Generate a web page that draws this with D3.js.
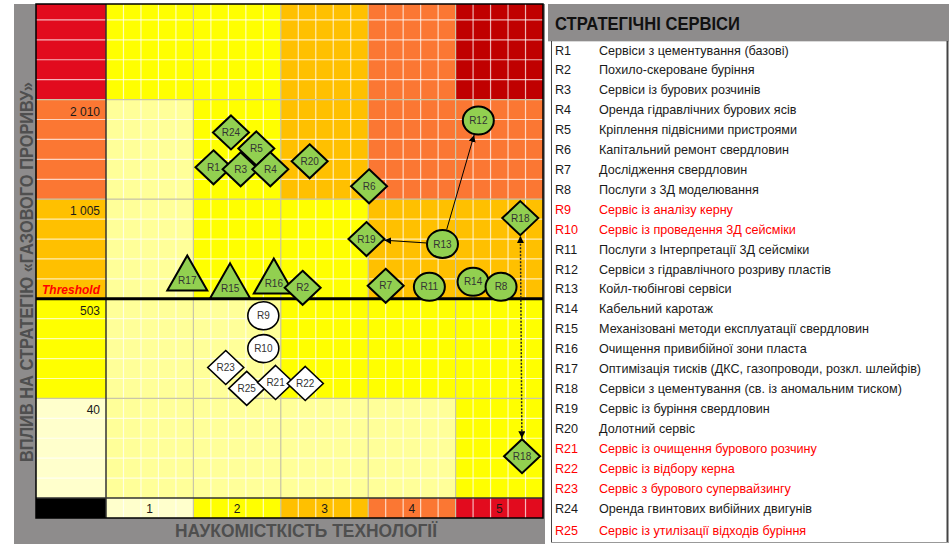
<!DOCTYPE html>
<html>
<head>
<meta charset="utf-8">
<script src="https://cdn.jsdelivr.net/npm/d3@7"></script>
<style>
body { margin: 0; background: #fff; }
svg { display: block; font-family: "Liberation Sans", Arial, sans-serif; }
</style>
</head>
<body>
<svg id="chart" width="949" height="544"></svg>
<script>
// ---- data ----
var xTickLabels = ["1", "2", "3", "4", "5"];
var yTickLabels = ["40", "503", "1 005", "2 010"];
var thresholdLabel = "Threshold";
var thresholdLevel = 2;

// risk level of every cell, rows from the bottom band up
var cellLevels = [
  [1, 1, 1, 1, 2],
  [1, 1, 2, 2, 2],
  [1, 2, 2, 3, 3],
  [1, 2, 3, 4, 4],
  [2, 2, 3, 4, 5]
];
var bandLevels = [0, 2, 3, 4, 6];   // left column, bottom -> top
var columnLevels = [0, 2, 3, 4, 6]; // bottom strip, 1 -> 5

// services on the map (drawing order)
var pointIds = ["R24", "R5", "R1", "R3", "R4", "R20", "R6", "R12", "R18", "R19", "R13",
  "R17", "R15", "R16", "R2", "R7", "R11", "R14", "R8", "R9", "R10", "R23", "R25", "R21", "R22", "R18b"];
var pointX = [1.43, 1.72, 1.23, 1.54, 1.88, 2.33, 3.01, 4.26, 4.74, 2.98, 3.85,
  0.93, 1.42, 1.92, 2.25, 3.20, 3.70, 4.20, 4.52, 1.80, 1.80, 1.37, 1.61, 1.94, 2.28, 4.76];
var pointY = [3.67, 3.51, 3.32, 3.30, 3.30, 3.38, 3.13, 3.79, 2.81, 2.60, 2.55,
  2.26, 2.18, 2.23, 2.11, 2.13, 2.12, 2.17, 2.12, 1.83, 1.50, 1.31, 1.10, 1.16, 1.15, 0.42];
var pointShape = ["diamond", "diamond", "diamond", "diamond", "diamond", "diamond", "diamond", "circle", "diamond", "diamond", "circle",
  "triangle", "triangle", "triangle", "diamond", "diamond", "circle", "circle", "circle", "circle", "circle", "diamond", "diamond", "diamond", "diamond", "diamond"];

var moveLinks = [["R13", "R12"], ["R13", "R19"]];
var splitLinks = [["R18b", "R18"]];

// legend
var serviceCodes = ["R1", "R2", "R3", "R4", "R5", "R6", "R7", "R8", "R9", "R10", "R11", "R12", "R13",
  "R14", "R15", "R16", "R17", "R18", "R19", "R20", "R21", "R22", "R23", "R24", "R25"];
var serviceNames = [
  "Сервіси з цементування (базові)",
  "Похило-скероване буріння",
  "Сервіси із бурових розчинів",
  "Оренда гідравлічних бурових ясів",
  "Кріплення підвісними пристроями",
  "Капітальний ремонт свердловин",
  "Дослідження свердловин",
  "Послуги з 3Д моделювання",
  "Сервіс із аналізу керну",
  "Сервіс із проведення 3Д сейсміки",
  "Послуги з Інтерпретації 3Д сейсміки",
  "Сервіси з гідравлічного розриву пластів",
  "Койл-тюбінгові сервіси",
  "Кабельний каротаж",
  "Механізовані методи експлуатації свердловин",
  "Очищення привибійної зони пласта",
  "Оптимізація тисків (ДКС, газопроводи, розкл. шлейфів)",
  "Сервіси з цементування (св. із аномальним тиском)",
  "Сервіс із буріння свердловин",
  "Долотний сервіс",
  "Сервіс із очищення бурового розчину",
  "Сервіс із відбору керна",
  "Сервіс з бурового супервайзингу",
  "Оренда гвинтових вибійних двигунів",
  "Сервіс із утилізації відходів буріння"
];
var newServices = ["R9", "R10", "R21", "R22", "R23", "R25"];

// ---- layout ----
var svg = d3.select("#chart");
var plot = { left: 106, right: 543, top: 4, bottom: 498, outer: 36, strip: 518 };

var levelColor = d3.scaleOrdinal()
  .domain([0, 1, 2, 3, 4, 5, 6])
  .range(["#ffffcc", "#ffff99", "#ffff00", "#ffc000", "#fb7733", "#c00000", "#e20b1e"]);

var x = d3.scaleLinear().domain([0, 5]).range([plot.left, plot.right]);
var y = d3.scaleLinear().domain([0, 5]).range([plot.bottom, 0]);

svg.append("rect").attr("x", 14).attr("y", 4).attr("width", 531).attr("height", 540).attr("fill", "#8e8c8c");

svg.append("clipPath").attr("id", "clip")
  .append("rect").attr("x", plot.outer).attr("y", plot.top)
  .attr("width", plot.right - plot.outer).attr("height", plot.strip - plot.top);

var g = svg.append("g").attr("clip-path", "url(#clip)");

// cells
var cells = [];
cellLevels.forEach(function (row, r) {
  row.forEach(function (lv, c) { cells.push({ r: r, c: c, lv: lv }); });
});
g.selectAll("rect.cell").data(cells).enter().append("rect")
  .attr("x", function (d) { return x(d.c); })
  .attr("y", function (d) { return y(d.r + 1); })
  .attr("width", x(1) - x(0))
  .attr("height", y(0) - y(1))
  .attr("fill", function (d) { return levelColor(d.lv); });

g.selectAll("rect.band").data(bandLevels).enter().append("rect")
  .attr("x", plot.outer)
  .attr("y", function (d, i) { return y(i + 1); })
  .attr("width", plot.left - plot.outer)
  .attr("height", y(0) - y(1))
  .attr("fill", function (d) { return levelColor(d); });

g.selectAll("rect.col").data(columnLevels).enter().append("rect")
  .attr("x", function (d, i) { return x(i); })
  .attr("y", plot.bottom)
  .attr("width", x(1) - x(0))
  .attr("height", plot.strip - plot.bottom)
  .attr("fill", function (d) { return levelColor(d); });

g.append("rect").attr("x", plot.outer).attr("y", plot.bottom)
  .attr("width", plot.left - plot.outer).attr("height", plot.strip - plot.bottom).attr("fill", "#000");

// grid
var minor = d3.range(1, 25).filter(function (i) { return i % 5 !== 0; }).map(function (i) { return i / 5; });
g.selectAll("line.vmin").data(minor).enter().append("line")
  .attr("x1", function (d) { return x(d); }).attr("x2", function (d) { return x(d); })
  .attr("y1", plot.top).attr("y2", plot.strip)
  .attr("stroke", "#fff").attr("stroke-opacity", 0.7).attr("stroke-width", 1.2);
g.selectAll("line.hmin").data(minor).enter().append("line")
  .attr("x1", plot.outer).attr("x2", plot.right)
  .attr("y1", function (d) { return y(d); }).attr("y2", function (d) { return y(d); })
  .attr("stroke", "#fff").attr("stroke-opacity", 0.7).attr("stroke-width", 1.2);
var major = [1, 2, 3, 4];
g.selectAll("line.vmaj").data(major).enter().append("line")
  .attr("x1", function (d) { return x(d); }).attr("x2", function (d) { return x(d); })
  .attr("y1", plot.top).attr("y2", plot.strip)
  .attr("stroke", "#c9c6a8").attr("stroke-width", 1.2);
g.selectAll("line.hmaj").data(major).enter().append("line")
  .attr("x1", plot.outer).attr("x2", plot.right)
  .attr("y1", function (d) { return y(d); }).attr("y2", function (d) { return y(d); })
  .attr("stroke", "#c9c6a8").attr("stroke-width", 1.2);

// frame
svg.append("line").attr("x1", plot.left).attr("x2", plot.left).attr("y1", plot.top).attr("y2", plot.strip)
  .attr("stroke", "#333").attr("stroke-width", 1.5);
svg.append("line").attr("x1", plot.outer).attr("x2", plot.right).attr("y1", plot.bottom).attr("y2", plot.bottom)
  .attr("stroke", "#333").attr("stroke-width", 1.5);
svg.append("rect").attr("x", plot.outer).attr("y", plot.top)
  .attr("width", plot.right - plot.outer).attr("height", plot.strip - plot.top)
  .attr("fill", "none").attr("stroke", "#000").attr("stroke-width", 1.5);
svg.append("line").attr("x1", plot.outer).attr("x2", plot.right)
  .attr("y1", y(thresholdLevel)).attr("y2", y(thresholdLevel))
  .attr("stroke", "#000").attr("stroke-width", 3);

// tick labels
svg.selectAll("text.ytick").data(yTickLabels).enter().append("text")
  .attr("x", 100).attr("y", function (d, i) { return y(i + 1) + 16; })
  .attr("text-anchor", "end").attr("font-size", 12).attr("fill", "#1a1a1a")
  .text(function (d) { return d; });
svg.append("text").attr("x", 100).attr("y", y(thresholdLevel) - 5)
  .attr("text-anchor", "end").attr("font-size", 12).attr("font-weight", "bold")
  .attr("font-style", "italic").attr("fill", "#ff0000").text(thresholdLabel);
svg.selectAll("text.xtick").data(xTickLabels).enter().append("text")
  .attr("x", function (d, i) { return x(i + 0.5); }).attr("y", 513)
  .attr("text-anchor", "middle").attr("font-size", 12).attr("fill", "#1a1a1a")
  .text(function (d) { return d; });

// axis titles (narrow face squeezed to the original width)
svg.append("text")
  .attr("transform", "translate(27,272) rotate(-90)")
  .attr("text-anchor", "middle").attr("dy", "0.35em")
  .attr("font-size", 17.5).attr("font-weight", "bold").attr("fill", "#4f4f4f")
  .attr("textLength", 380).attr("lengthAdjust", "spacingAndGlyphs")
  .text("ВПЛИВ НА СТРАТЕГІЮ «ГАЗОВОГО ПРОРИВУ»");
svg.append("text")
  .attr("x", 306).attr("y", 537).attr("text-anchor", "middle")
  .attr("font-size", 19).attr("font-weight", "bold").attr("fill", "#4f4f4f")
  .attr("textLength", 262).attr("lengthAdjust", "spacingAndGlyphs")
  .text("НАУКОМІСТКІСТЬ ТЕХНОЛОГІЇ");

// ---- markers ----
var size = { diamond: [18, 17], circle: [15.5, 14], triangle: [20, 17.5] };
var points = pointIds.map(function (id, i) {
  return { id: id, label: id.replace("b", ""), x: pointX[i], y: pointY[i], shape: pointShape[i],
    fresh: newServices.indexOf(id) >= 0 };
});
var byId = {};
points.forEach(function (p) { byId[p.id] = p; });

function shapePath(p) {
  var cx = x(p.x), cy = y(p.y), s = size[p.shape];
  if (p.shape === "diamond") {
    return "M" + cx + "," + (cy - s[1]) + "L" + (cx + s[0]) + "," + cy + "L" + cx + "," + (cy + s[1]) + "L" + (cx - s[0]) + "," + cy + "Z";
  }
  if (p.shape === "triangle") {
    return "M" + cx + "," + (cy - s[1]) + "L" + (cx + s[0]) + "," + (cy + s[1]) + "L" + (cx - s[0]) + "," + (cy + s[1]) + "Z";
  }
  return null;
}

function edge(p, ux, uy) {
  var s = size[p.shape];
  if (p.shape === "circle") return 1 / Math.sqrt(Math.pow(ux / s[0], 2) + Math.pow(uy / s[1], 2));
  return 1 / (Math.abs(ux) / s[0] + Math.abs(uy) / s[1]);
}

var defs = svg.append("defs");
defs.append("marker").attr("id", "head").attr("viewBox", "0 0 10 10")
  .attr("refX", 10).attr("refY", 5).attr("markerWidth", 7).attr("markerHeight", 7)
  .attr("markerUnits", "userSpaceOnUse").attr("orient", "auto-start-reverse")
  .append("path").attr("d", "M0,0L10,5L0,10Z").attr("fill", "#000");

function linkPath(pair) {
  var a = byId[pair[0]], b = byId[pair[1]];
  var ax = x(a.x), ay = y(a.y), bx = x(b.x), by = y(b.y);
  var dx = bx - ax, dy = by - ay, len = Math.sqrt(dx * dx + dy * dy);
  var ux = dx / len, uy = dy / len;
  var ta = edge(a, ux, uy) + 1, tb = edge(b, ux, uy) + 1;
  return "M" + (ax + ux * ta) + "," + (ay + uy * ta) + "L" + (bx - ux * tb) + "," + (by - uy * tb);
}

svg.selectAll("path.move").data(moveLinks).enter().append("path")
  .attr("d", linkPath).attr("stroke", "#000").attr("stroke-width", 1).attr("fill", "none")
  .attr("marker-end", "url(#head)");
svg.selectAll("path.split").data(splitLinks).enter().append("path")
  .attr("d", linkPath).attr("stroke", "#222").attr("stroke-width", 1.5).attr("fill", "none")
  .attr("stroke-dasharray", "2,1.5")
  .attr("marker-start", "url(#head)").attr("marker-end", "url(#head)");

var mk = svg.selectAll("g.pt").data(points).enter().append("g");
mk.each(function (p) {
  var el = d3.select(this);
  var fill = p.fresh ? "#fff" : "#92d050";
  var sw = p.fresh ? 1.6 : 2;
  if (p.shape === "circle") {
    el.append("ellipse").attr("cx", x(p.x)).attr("cy", y(p.y))
      .attr("rx", size.circle[0]).attr("ry", size.circle[1])
      .attr("fill", fill).attr("stroke", "#000").attr("stroke-width", sw);
  } else {
    el.append("path").attr("d", shapePath(p)).attr("fill", fill)
      .attr("stroke", "#000").attr("stroke-width", sw).attr("stroke-linejoin", "miter");
  }
  el.append("text").attr("x", x(p.x))
    .attr("y", y(p.y) + (p.shape === "triangle" ? 11 : 3.5))
    .attr("text-anchor", "middle").attr("font-size", 10).attr("fill", "#333")
    .text(p.label);
});

// ---- legend table ----
svg.append("rect").attr("x", 548).attr("y", 4).attr("width", 401).attr("height", 37).attr("fill", "#8e8c8c");
svg.append("text").attr("x", 555).attr("y", 30)
  .attr("font-size", 19).attr("font-weight", "bold").attr("fill", "#111")
  .attr("textLength", 185).attr("lengthAdjust", "spacingAndGlyphs")
  .text("СТРАТЕГІЧНІ СЕРВІСИ");
svg.append("line").attr("x1", 548).attr("x2", 949).attr("y1", 41.5).attr("y2", 41.5).attr("stroke", "#d9d9d9");
svg.append("line").attr("x1", 551.5).attr("x2", 551.5).attr("y1", 41).attr("y2", 543).attr("stroke", "#444");
svg.append("line").attr("x1", 947.5).attr("x2", 947.5).attr("y1", 41).attr("y2", 543).attr("stroke", "#444").attr("stroke-width", 2);
svg.append("line").attr("x1", 551).attr("x2", 948).attr("y1", 542.5).attr("y2", 542.5).attr("stroke", "#999");

var rowY = d3.scaleLinear().domain([0, 23]).range([54.5, 512.5]);
var rows = svg.selectAll("g.row").data(serviceCodes).enter().append("g")
  .attr("transform", function (d, i) { return "translate(0," + (rowY(i) + (i === 24 ? 3 : 0)) + ")"; })
  .attr("fill", function (d) { return newServices.indexOf(d) >= 0 ? "#ff0000" : "#1a1a1a"; })
  .attr("font-size", 12.6);
rows.append("text").attr("x", 555).text(function (d) { return d; });
rows.append("text").attr("x", 599).text(function (d, i) { return serviceNames[i]; });
</script>
</body>
</html>
